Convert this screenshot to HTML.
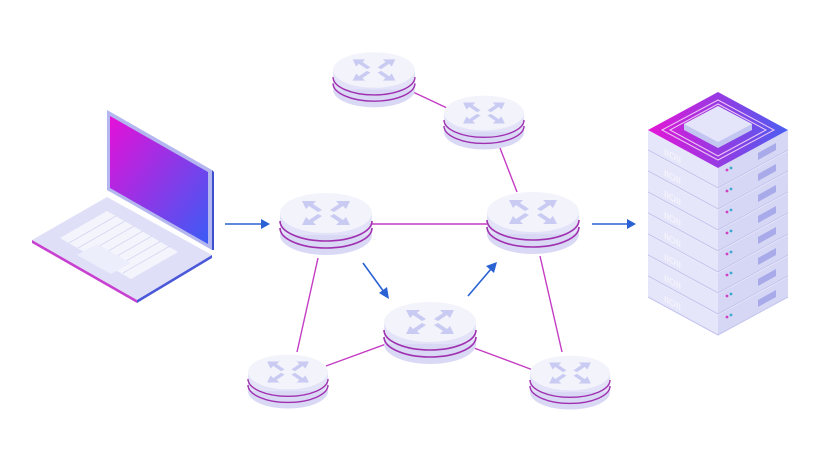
<!DOCTYPE html>
<html><head><meta charset="utf-8"><style>html,body{margin:0;padding:0;background:#fff}svg{display:block}</style></head>
<body>
<svg width="820" height="460" viewBox="0 0 820 460" xmlns="http://www.w3.org/2000/svg">
<defs>
<linearGradient id="scr" x1="0" y1="0" x2="1" y2="1">
<stop offset="0" stop-color="#e610d8"/><stop offset="1" stop-color="#3a5cf5"/></linearGradient>
<linearGradient id="top" x1="0" y1="0" x2="1" y2="0">
<stop offset="0" stop-color="#e416d6"/><stop offset="1" stop-color="#4a5ef0"/></linearGradient>
<g id="r">
<ellipse cx="0" cy="22" rx="46" ry="20" fill="#d9d9f5"/>
<rect x="-46" y="0" width="92" height="22" fill="#e2e2f8"/>
<path d="M-46,8 A46,20 0 0 0 46,8" fill="none" stroke="#a030b0" stroke-width="1.6"/>
<path d="M-46,15 A46,20 0 0 0 46,15" fill="none" stroke="#a030b0" stroke-width="1.6"/>
<ellipse cx="0" cy="0" rx="46" ry="20" fill="#f3f3fb"/>
<g fill="#c9cbf2">
<path d="M-24,-12 L-10,-12 L-13,-9 L-4,-3 L-8,-1 L-17,-7 L-20,-4 Z"/>
<path d="M24,-12 L10,-12 L13,-9 L4,-3 L8,-1 L17,-7 L20,-4 Z"/>
<path d="M-24,12 L-10,12 L-13,9 L-4,3 L-8,1 L-17,7 L-20,4 Z"/>
<path d="M24,12 L10,12 L13,9 L4,3 L8,1 L17,7 L20,4 Z"/>
</g>
</g>
<g id="layer">
<path d="M0,0 L70,38 L70,58 L0,20 Z" fill="#e6e6fa"/>
<path d="M70,38 L140,0 L140,20 L70,58 Z" fill="#d6d7f5"/>
<path d="M0,20 L70,58 L140,20" fill="none" stroke="#c3c4ee" stroke-width="1"/>
<text x="16" y="24" font-family="Liberation Sans, sans-serif" font-size="9" fill="#f8f8fe" transform="skewY(28) translate(0,-8)">IIOII</text>
<circle cx="79" cy="40" r="1.4" fill="#d040c0"/><circle cx="83" cy="38" r="1.4" fill="#3aa8d0"/>
<path d="M110,23 L128,13 L128,20 L110,30 Z" fill="#a8aaea"/>
</g>
</defs>

<!-- connectors -->
<g stroke="#c43cc4" stroke-width="1.4" fill="none">
<line x1="413" y1="92" x2="447" y2="108"/>
<line x1="500" y1="148" x2="517" y2="192"/>
<line x1="372" y1="224" x2="488" y2="224"/>
<line x1="318" y1="258" x2="297" y2="352"/>
<line x1="386" y1="344" x2="326" y2="366"/>
<line x1="474" y1="348" x2="533" y2="370"/>
<line x1="540" y1="256" x2="562" y2="352"/>
</g>
<g stroke="#2a62d4" stroke-width="1.6" fill="#2a62d4">
<line x1="225" y1="224" x2="262" y2="224"/><path d="M270,224 L261,219 L261,229 Z" stroke="none"/>
<line x1="363" y1="263" x2="384" y2="292"/><path d="M389,299 L379,293 L387,287 Z" stroke="none"/>
<line x1="468" y1="296" x2="491" y2="269"/><path d="M497,262 L494,273 L486,266 Z" stroke="none"/>
<line x1="592" y1="224" x2="628" y2="224"/><path d="M636,224 L627,219 L627,229 Z" stroke="none"/>
</g>

<!-- routers -->
<use href="#r" transform="translate(374,70) scale(0.89)"/>
<use href="#r" transform="translate(484,113) scale(0.87)"/>
<use href="#r" transform="translate(326,213)"/>
<use href="#r" transform="translate(533,212)"/>
<use href="#r" transform="translate(430,322)"/>
<use href="#r" transform="translate(288,372) scale(0.87)"/>
<use href="#r" transform="translate(570,373) scale(0.87)"/>

<!-- laptop -->
<path d="M32,240 L107,197 L212,255 L137,300 Z" fill="#dfe0f8"/>
<path d="M32,240 L137,300 L137,303 L32,243 Z" fill="#c840d0"/>
<path d="M137,300 L212,255 L212,258 L137,303 Z" fill="#4b58d8"/>
<path d="M107,110 L212,170 L212,250 L107,190 Z" fill="#b4b6f0"/>
<path d="M110,116 L208,172 L208,244 L110,188 Z" fill="url(#scr)"/>
<path d="M212,170 L214,172 L214,250 L212,250 Z" fill="#3b4fcf"/>
<path d="M60,238 L107,211 L178,252 L131,279 Z" fill="#f4f4fc"/>
<g stroke="#d4d6f2" stroke-width="0.8">
<line x1="69" y1="243" x2="116" y2="216"/><line x1="78" y1="248" x2="125" y2="221"/>
<line x1="87" y1="253" x2="134" y2="226"/><line x1="96" y1="258" x2="143" y2="231"/>
<line x1="105" y1="263" x2="152" y2="236"/><line x1="114" y1="268" x2="161" y2="241"/>
<line x1="123" y1="273" x2="170" y2="246"/>
</g>
<path d="M77,255 L97,244 L131,263 L111,274 Z" fill="#eceefb"/>

<!-- server -->
<use href="#layer" transform="translate(648,277)"/>
<use href="#layer" transform="translate(648,256)"/>
<use href="#layer" transform="translate(648,235)"/>
<use href="#layer" transform="translate(648,214)"/>
<use href="#layer" transform="translate(648,193)"/>
<use href="#layer" transform="translate(648,172)"/>
<use href="#layer" transform="translate(648,151)"/>
<use href="#layer" transform="translate(648,130)"/>
<path d="M648,130 L718,92 L788,130 L718,168 Z" fill="url(#top)"/>
<path d="M662,130 L718,100 L774,130 L718,160 Z" fill="none" stroke="#f0c8f4" stroke-width="1"/>
<path d="M670,130 L718,104 L766,130 L718,156 Z" fill="none" stroke="#f0c8f4" stroke-width="1"/>
<path d="M684,124 L718,106 L752,124 L752,130 L718,148 L684,130 Z" fill="#c4c6f2"/>
<path d="M684,124 L718,106 L752,124 L718,142 Z" fill="#e4e5fa"/>
</svg>
</body></html>
